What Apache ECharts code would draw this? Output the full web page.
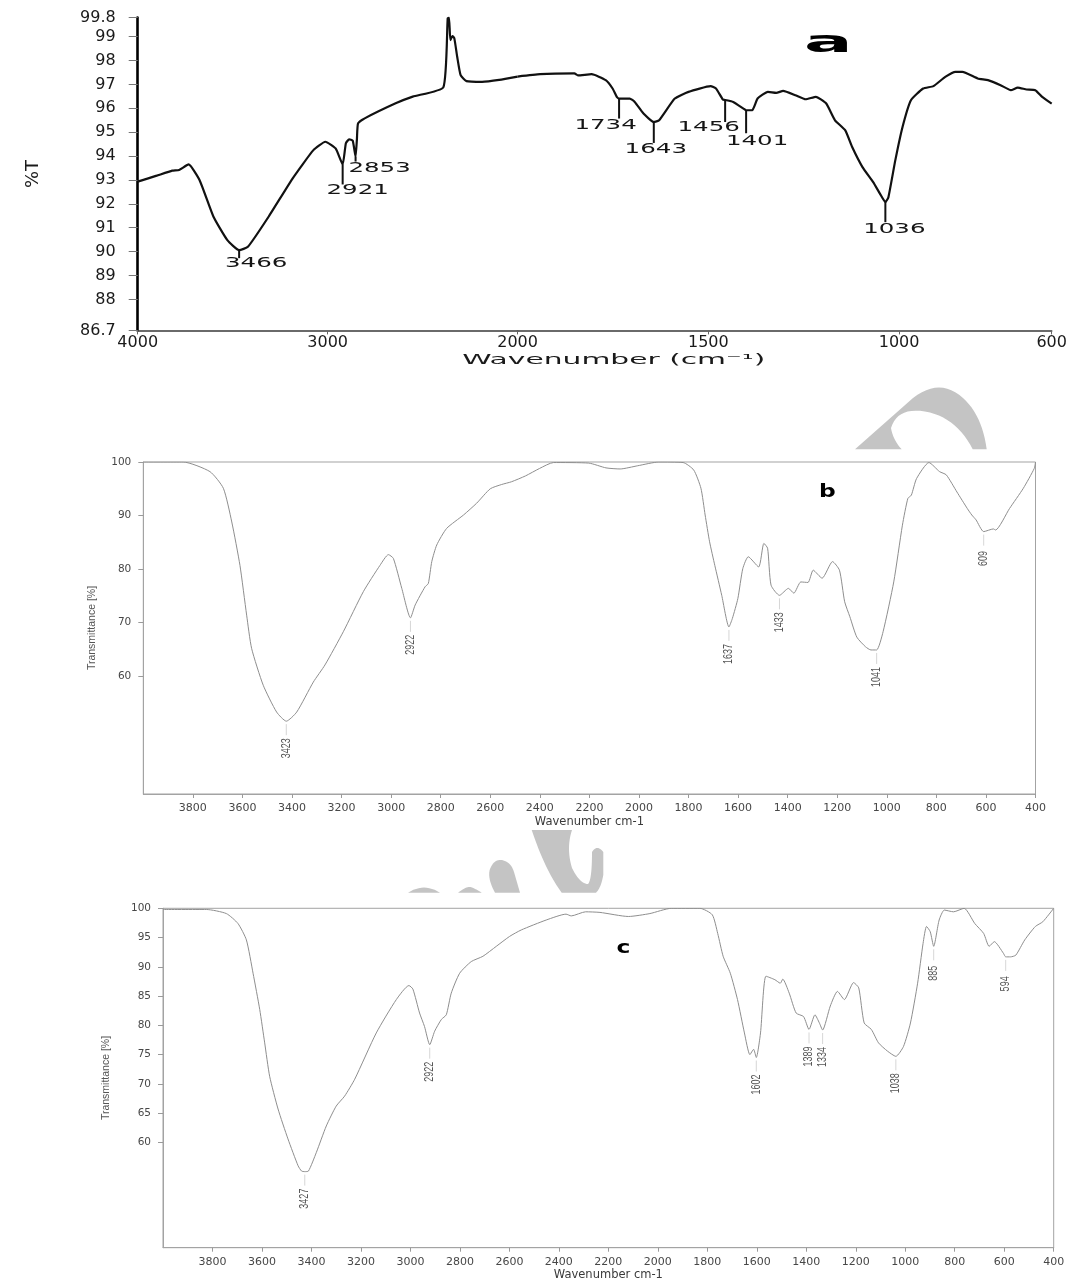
<!DOCTYPE html>
<html>
<head>
<meta charset="utf-8">
<title>FTIR spectra (a, b, c)</title>
<script src="https://cdn.jsdelivr.net/npm/echarts@6/dist/echarts.min.js"></script>
<style>
  html, body { margin: 0; padding: 0; background: #ffffff; }
  #chart { width: 1081px; height: 1282px; }
</style>
</head>
<body>
<div id="chart"></div>
<script>
// ---------------------------------------------------------------
// Spectrum a : [wavenumber (cm-1), %T]
// ---------------------------------------------------------------
const spectrumA = [
  [4000, 92.93], [3900, 93.18], [3818, 93.39], [3782, 93.42], [3732, 93.65],
  [3674, 92.99], [3601, 91.46], [3528, 90.48], [3466, 90.06], [3420, 90.20],
  [3311, 91.46], [3184, 93.07], [3075, 94.25], [3012, 94.60], [2958, 94.32],
  [2921, 93.65], [2904, 94.54], [2887, 94.70], [2868, 94.65], [2853, 93.98],
  [2846, 94.70], [2840, 95.37], [2805, 95.58], [2642, 96.21], [2552, 96.49],
  [2391, 96.88], [2368, 99.77], [2361, 99.80], [2354, 98.86], [2343, 99.03],
  [2333, 98.93], [2318, 98.16], [2300, 97.39], [2269, 97.14], [2187, 97.11],
  [2097, 97.19], [2000, 97.33], [1941, 97.43], [1851, 97.46], [1842, 97.38],
  [1806, 97.43], [1769, 97.18], [1751, 96.83], [1740, 96.48], [1734, 96.41],
  [1706, 96.41], [1693, 96.27], [1670, 95.78], [1643, 95.43], [1629, 95.50],
  [1588, 96.41], [1552, 96.69], [1494, 96.93], [1480, 96.83], [1462, 96.37],
  [1456, 96.35], [1435, 96.27], [1408, 95.99], [1401, 95.92], [1385, 95.92],
  [1371, 96.41], [1344, 96.69], [1322, 96.65], [1304, 96.73], [1272, 96.55],
  [1245, 96.38], [1218, 96.48], [1191, 96.20], [1168, 95.50], [1141, 95.08],
  [1123, 94.38], [1096, 93.54], [1068, 92.91], [1050, 92.42], [1036, 92.07],
  [1028, 92.28], [1010, 93.82], [991, 95.22], [969, 96.34], [937, 96.83],
  [910, 96.93], [879, 97.32], [852, 97.53], [834, 97.53], [794, 97.25],
  [767, 97.18], [734, 96.97], [707, 96.76], [689, 96.87], [666, 96.79],
  [643, 96.76], [625, 96.48], [600, 96.20]
];
const peaksA   = [3466, 2921, 2853, 1734, 1643, 1456, 1401, 1036];
const peaksA_T = [90.06, 93.65, 93.98, 96.41, 95.43, 96.35, 95.92, 92.07];
const yTicksA  = [86.7, 88, 89, 90, 91, 92, 93, 94, 95, 96, 97, 98, 99, 99.8];
const xTicksAHigh = [4000, 3000, 2000];
const xTicksALow  = [1500, 1000, 600];

// ---------------------------------------------------------------
// Spectrum b : [wavenumber (cm-1), Transmittance %]
// ---------------------------------------------------------------
const spectrumB = [
  [4000, 100], [3839, 100], [3731, 98.2], [3677, 95.1], [3643, 88.8],
  [3610, 80.7], [3583, 71.4], [3563, 65.2], [3516, 58.3], [3462, 53.3],
  [3423, 51.6], [3381, 53.3], [3314, 58.9], [3267, 62.1], [3193, 68.3],
  [3112, 75.8], [3045, 80.7], [3011, 82.7], [2991, 82.0], [2957, 76.4],
  [2922, 70.9], [2903, 73.3], [2863, 76.7], [2850, 77.3], [2836, 81.4],
  [2816, 84.5], [2776, 87.6], [2708, 90.1], [2655, 92.3], [2600, 95.0],
  [2554, 95.8], [2515, 96.3], [2458, 97.4], [2401, 98.8], [2345, 99.9],
  [2203, 99.8], [2133, 98.9], [2076, 98.7], [2005, 99.3], [1920, 100],
  [1822, 99.9], [1779, 98.5], [1750, 95.1], [1733, 90.1], [1715, 85.1],
  [1694, 80.7], [1666, 75.1], [1637, 69.2], [1623, 70.8], [1601, 74.5],
  [1581, 80.1], [1559, 82.3], [1517, 80.4], [1496, 84.8], [1481, 83.9],
  [1467, 77.0], [1433, 75.1], [1397, 76.4], [1375, 75.5], [1347, 77.6],
  [1318, 77.5], [1297, 79.8], [1261, 78.3], [1219, 81.4], [1191, 79.8],
  [1170, 73.9], [1149, 71.1], [1121, 67.3], [1086, 65.5], [1064, 64.9],
  [1041, 64.9], [1015, 68.3], [972, 77.6], [937, 88.2], [915, 93.2],
  [901, 93.8], [880, 96.9], [830, 99.9], [787, 98.2], [760, 97.6],
  [717, 94.4], [675, 91.3], [657, 90.1], [640, 89.2], [609, 87.0],
  [570, 87.5], [561, 87.3], [505, 91.3], [449, 95.1], [405, 98.8],
  [400, 100]
];
const peaksB   = [3423, 2922, 1637, 1433, 1041, 609];
const peaksB_T = [51.6, 70.9, 69.2, 75.1, 64.9, 87.0];
const yTicksB  = [60, 70, 80, 90, 100];

// ---------------------------------------------------------------
// Spectrum c : [wavenumber (cm-1), Transmittance %]
// ---------------------------------------------------------------
const spectrumC = [
  [4000, 99.8], [3825, 99.8], [3744, 99.1], [3697, 97.4], [3663, 94.6],
  [3636, 88.9], [3609, 82.7], [3589, 77.0], [3569, 71.3], [3535, 65.7],
  [3495, 60.6], [3454, 56.0], [3440, 55.1], [3427, 55.0], [3412, 55.1],
  [3380, 58.3], [3340, 62.8], [3300, 66.2], [3266, 67.9], [3225, 70.8],
  [3138, 78.7], [3057, 84.4], [3006, 86.8], [2990, 86.2], [2963, 82.1],
  [2943, 79.8], [2922, 76.7], [2902, 79.0], [2875, 81.0], [2855, 81.8],
  [2835, 85.5], [2801, 88.9], [2754, 90.9], [2707, 91.8], [2653, 93.5],
  [2599, 95.2], [2552, 96.3], [2451, 98.0], [2371, 99.0], [2350, 98.7],
  [2292, 99.4], [2234, 99.3], [2119, 98.6], [2032, 99.1], [1946, 100],
  [1830, 100], [1780, 98.9], [1758, 95.7], [1736, 91.8], [1707, 88.9],
  [1678, 84.4], [1650, 78.7], [1628, 75.0], [1613, 75.9], [1602, 74.5],
  [1585, 78.7], [1563, 88.4], [1527, 87.8], [1505, 87.2], [1495, 87.9],
  [1469, 85.5], [1441, 82.1], [1411, 81.5], [1389, 79.3], [1365, 81.8],
  [1347, 80.4], [1334, 79.2], [1303, 83.3], [1274, 85.8], [1246, 84.4],
  [1209, 87.3], [1188, 86.4], [1166, 80.4], [1137, 79.3], [1108, 77.0],
  [1072, 75.6], [1038, 74.7], [1007, 76.4], [979, 80.4], [950, 87.2],
  [928, 94.0], [914, 96.9], [899, 96.0], [885, 93.5], [863, 98.0],
  [842, 99.7], [805, 99.4], [762, 100], [719, 97.4], [683, 95.7],
  [661, 93.5], [640, 94.3], [603, 92.3], [594, 91.7], [575, 91.7],
  [553, 92.0], [517, 94.6], [474, 96.9], [444, 97.7], [400, 100]
];
const peaksC   = [3427, 2922, 1602, 1389, 1334, 1038, 885, 594];
const peaksC_T = [55.0, 76.7, 74.5, 79.3, 79.2, 74.7, 93.5, 91.7];
const yTicksC  = [60, 65, 70, 75, 80, 85, 90, 95, 100];

// Tick labels shared by the lower two spectra
const xTicksBC = [3800, 3600, 3400, 3200, 3000, 2800, 2600, 2400, 2200,
                  2000, 1800, 1600, 1400, 1200, 1000, 800, 600, 400];

// ---------------------------------------------------------------
// Placement of the peak call-outs of spectrum a (pixels from the peak)
// len: leader length, dx/dy: centre of the number
// ---------------------------------------------------------------
const peakLabelLayoutA = {
  3466: { len: 8,  dx: 17,    dy: 13 },
  2921: { len: 20, dx: 15,    dy: 26 },
  2853: { len: 5,  dx: 24,    dy: 12 },
  1734: { len: 20, dx: -13.5, dy: 26.5 },
  1643: { len: 21, dx: 2,     dy: 27 },
  1456: { len: 22, dx: -16.5, dy: 27 },
  1401: { len: 23, dx: 11,    dy: 31.5 },
  1036: { len: 20, dx: 9,     dy: 27 }
};

// Outlines of the grey logo fragments between the panels (M / L / Q commands)
const logoOutlines = [
  'M855 449.3 L913 398 Q940 377 963 398 Q982 415 986.7 449.3 L972.7 449.3 Q958 420 930 412.5 Q898 405 891 428 Q893 440 901.7 449.3 Z',
  'M531.7 830 L572 830 Q566 848 572 868 Q580 884 588 884 Q592 880 592 852 Q597 844 603.3 852 L603.3 875 Q601 888 596 892.7 L561.7 892.7 Q545 870 531.7 830 Z',
  'M495 892.7 Q487 878 490 869 Q494 859 502 860 Q511 862 514 872 L520 892.7 Z',
  'M408 892.7 Q424 882.5 440 892.7 Z',
  'M458 892.7 Q468 885 472 887.5 Q476 889 481.7 892.7 Z'
];

const FONT_A = 'DejaVu Sans';
const FONT_BC = 'DejaVu Sans';
const FONT_NARROW = "'Liberation Sans Narrow', 'Liberation Sans', sans-serif";

// Plain numbers on the axes (no thousands separator)
const plainNumber = v => String(v);

// Flatten an outline made of M / L / Q commands into polygon points
function outlineToPoints(d) {
  const tok = d.replace(/([MLQZ])/g, ' $1 ').trim().split(/[\s,]+/);
  const pts = [];
  let i = 0, cur = [0, 0];
  while (i < tok.length) {
    const c = tok[i++];
    if (c === 'M' || c === 'L') {
      cur = [+tok[i++], +tok[i++]];
      pts.push(cur);
    } else if (c === 'Q') {
      const cp = [+tok[i++], +tok[i++]];
      const end = [+tok[i++], +tok[i++]];
      for (let k = 1; k <= 12; k++) {
        const t = k / 12, u = 1 - t;
        pts.push([u * u * cur[0] + 2 * u * t * cp[0] + t * t * end[0],
                  u * u * cur[1] + 2 * u * t * cp[1] + t * t * end[1]]);
      }
      cur = end;
    }
  }
  return pts;
}

const specAHigh = spectrumA.filter(d => d[0] >= 2000);
const specALow  = spectrumA.filter(d => d[0] <= 2000);
const peakDataA = peaksA.map((w, i) => [w, peaksA_T[i]]);
const peakDataB = peaksB.map((w, i) => [w, peaksB_T[i]]);
const peakDataC = peaksC.map((w, i) => [w, peaksC_T[i]]);

// Vertical leader + horizontally stretched number (spectrum a)
function renderPeakA(params, api) {
  const w = api.value(0);
  const p = api.coord([w, api.value(1)]);
  const lay = peakLabelLayoutA[w];
  return {
    type: 'group',
    children: [
      { type: 'line',
        shape: { x1: p[0], y1: p[1], x2: p[0], y2: p[1] + lay.len },
        style: { stroke: '#111111', lineWidth: 2 } },
      { type: 'text', x: p[0] + lay.dx, y: p[1] + lay.dy, scaleX: 1.75,
        style: { text: String(w), x: 0, y: 0,
                 align: 'center', verticalAlign: 'middle',
                 fontFamily: FONT_A, fontSize: 14, fill: '#151515' } }
    ]
  };
}

// Faint leader + condensed number written bottom-to-top (spectra b, c)
function renderPeakRotated(params, api) {
  const w = api.value(0);
  const p = api.coord([w, api.value(1)]);
  return {
    type: 'group',
    children: [
      { type: 'line',
        shape: { x1: p[0], y1: p[1] + 3, x2: p[0], y2: p[1] + 14 },
        style: { stroke: '#cccccc', lineWidth: 0.8 } },
      { type: 'text', x: p[0], y: p[1] + 27, rotation: Math.PI / 2, scaleX: 0.72,
        style: { text: String(w), x: 0, y: 0,
                 align: 'center', verticalAlign: 'middle',
                 fontFamily: 'Liberation Sans', fontSize: 12.5, fill: '#555555' } }
    ]
  };
}

const chart = echarts.init(document.getElementById('chart'), null, { renderer: 'canvas' });

const axisA = { color: '#1a1a1a', fontFamily: FONT_A, fontSize: 16, formatter: plainNumber };
const axisBC = { color: '#474747', fontFamily: FONT_BC, fontSize: 11, formatter: plainNumber };

function centredText(txt, x, y, scaleX, font) {
  return { type: 'text', x: x, y: y, scaleX: scaleX, silent: true,
           style: Object.assign({ text: txt, x: 0, y: 0,
                                  textAlign: 'center', textVerticalAlign: 'middle',
                                  fill: '#000' }, font) };
}

const option = {
  animation: false,
  backgroundColor: '#ffffff',
  textStyle: { fontFamily: FONT_A },
  grid: [
    { left: 137.7, top: 17.6, width: 379.9, height: 312.8, outerBoundsMode: 'none' },
    { left: 517.6, top: 17.6, width: 534.1, height: 312.8, outerBoundsMode: 'none' },
    { left: 143.3, top: 462, width: 892.2, height: 332, outerBoundsMode: 'none',
      show: true, borderColor: '#a3a3a3', borderWidth: 1 },
    { left: 163, top: 908.3, width: 890.7, height: 339.4, outerBoundsMode: 'none',
      show: true, borderColor: '#a3a3a3', borderWidth: 1 }
  ],
  xAxis: [
    { gridIndex: 0, type: 'value', min: 2000, max: 4000, inverse: true,
      splitLine: { show: false },
      axisLine: { lineStyle: { color: '#3a3a3a', width: 1.6 } },
      axisTick: { customValues: xTicksAHigh, length: 4, lineStyle: { color: '#666' } },
      axisLabel: Object.assign({ customValues: xTicksAHigh, margin: 4 }, axisA) },
    { gridIndex: 1, type: 'value', min: 600, max: 2000, inverse: true,
      splitLine: { show: false },
      axisLine: { lineStyle: { color: '#3a3a3a', width: 1.6 } },
      axisTick: { customValues: xTicksALow, length: 4, lineStyle: { color: '#666' } },
      axisLabel: Object.assign({ customValues: xTicksALow, margin: 4 }, axisA) },
    { gridIndex: 2, type: 'value', min: 400, max: 4000, inverse: true,
      splitLine: { show: false },
      name: 'Wavenumber cm-1', nameLocation: 'middle', nameGap: 22,
      nameTextStyle: { color: '#3a3a3a', fontFamily: FONT_BC, fontSize: 11.5 },
      axisLine: { lineStyle: { color: '#a3a3a3', width: 1 } },
      axisTick: { customValues: xTicksBC, length: 4, lineStyle: { color: '#9a9a9a' } },
      axisLabel: Object.assign({ customValues: xTicksBC, margin: 9 }, axisBC) },
    { gridIndex: 3, type: 'value', min: 400, max: 4000, inverse: true,
      splitLine: { show: false },
      name: 'Wavenumber cm-1', nameLocation: 'middle', nameGap: 21,
      nameTextStyle: { color: '#3a3a3a', fontFamily: FONT_BC, fontSize: 11.5 },
      axisLine: { lineStyle: { color: '#a3a3a3', width: 1 } },
      axisTick: { customValues: xTicksBC, length: 4, lineStyle: { color: '#9a9a9a' } },
      axisLabel: Object.assign({ customValues: xTicksBC, margin: 9 }, axisBC) }
  ],
  yAxis: [
    { gridIndex: 0, type: 'value', min: 86.7, max: 99.8,
      splitLine: { show: false },
      name: '%T', nameLocation: 'middle', nameGap: 95,
      nameTextStyle: { color: '#1a1a1a', fontFamily: FONT_A, fontSize: 18 },
      axisLine: { show: true, lineStyle: { color: '#000000', width: 2.6 } },
      axisTick: { show: true, customValues: yTicksA, length: 9, lineStyle: { color: '#777' } },
      axisLabel: Object.assign({ customValues: yTicksA, margin: 22 }, axisA) },
    { gridIndex: 1, type: 'value', min: 86.7, max: 99.8, show: false },
    { gridIndex: 2, type: 'value', min: 38, max: 100,
      splitLine: { show: false },
      name: 'Transmittance [%]', nameLocation: 'middle', nameGap: 46,
      nameTextStyle: { color: '#555555', fontFamily: FONT_NARROW, fontSize: 10.5 },
      axisLine: { show: true, lineStyle: { color: '#a3a3a3', width: 1 } },
      axisTick: { show: true, customValues: yTicksB, length: 5, lineStyle: { color: '#9a9a9a' } },
      axisLabel: Object.assign({ customValues: yTicksB, margin: 12 }, axisBC, { fontSize: 10.5 }) },
    { gridIndex: 3, type: 'value', min: 42, max: 100,
      splitLine: { show: false },
      name: 'Transmittance [%]', nameLocation: 'middle', nameGap: 51,
      nameTextStyle: { color: '#555555', fontFamily: FONT_NARROW, fontSize: 10.5 },
      axisLine: { show: true, lineStyle: { color: '#a3a3a3', width: 1 } },
      axisTick: { show: true, customValues: yTicksC, length: 5, lineStyle: { color: '#9a9a9a' } },
      axisLabel: Object.assign({ customValues: yTicksC, margin: 12 }, axisBC, { fontSize: 10.5 }) }
  ],
  series: [
    { name: 'a (4000-2000)', type: 'line', xAxisIndex: 0, yAxisIndex: 0,
      data: specAHigh, showSymbol: false, symbol: 'none', smooth: 0.15, clip: true,
      lineStyle: { color: '#111111', width: 2.2 }, z: 3 },
    { name: 'a (2000-600)', type: 'line', xAxisIndex: 1, yAxisIndex: 1,
      data: specALow, showSymbol: false, symbol: 'none', smooth: 0.15, clip: true,
      lineStyle: { color: '#111111', width: 2.2 }, z: 3 },
    { name: 'a peaks high', type: 'custom', xAxisIndex: 0, yAxisIndex: 0,
      data: peakDataA.filter(d => d[0] >= 2000), encode: { x: 0, y: 1 },
      renderItem: renderPeakA, z: 4, silent: true },
    { name: 'a peaks low', type: 'custom', xAxisIndex: 1, yAxisIndex: 1,
      data: peakDataA.filter(d => d[0] < 2000), encode: { x: 0, y: 1 },
      renderItem: renderPeakA, z: 4, silent: true },

    { name: 'b', type: 'line', xAxisIndex: 2, yAxisIndex: 2,
      data: spectrumB, showSymbol: false, symbol: 'none', smooth: 0.2, clip: true,
      lineStyle: { color: '#8e8e8e', width: 1 }, z: 3 },
    { name: 'b peaks', type: 'custom', xAxisIndex: 2, yAxisIndex: 2,
      data: peakDataB, encode: { x: 0, y: 1 },
      renderItem: renderPeakRotated, z: 4, silent: true },

    { name: 'c', type: 'line', xAxisIndex: 3, yAxisIndex: 3,
      data: spectrumC, showSymbol: false, symbol: 'none', smooth: 0.2, clip: true,
      lineStyle: { color: '#8e8e8e', width: 1 }, z: 3 },
    { name: 'c peaks', type: 'custom', xAxisIndex: 3, yAxisIndex: 3,
      data: peakDataC, encode: { x: 0, y: 1 },
      renderItem: renderPeakRotated, z: 4, silent: true }
  ],
  graphic: [
    // panel letters
    centredText('a', 828.4, 44.6, 2.4, { fontFamily: FONT_A, fontWeight: 'bold', fontSize: 30 }),
    centredText('b', 827.5, 492.3, 1.3, { fontFamily: FONT_A, fontWeight: 'bold', fontSize: 18 }),
    centredText('c', 623.5, 948.8, 1.3, { fontFamily: FONT_A, fontWeight: 'bold', fontSize: 18 }),
    // x-axis title of spectrum a (spans both axis segments)
    centredText('Wavenumber (cm\u207B\u00B9)', 613.7, 360, 2.05,
                { fontFamily: FONT_A, fontSize: 14.5, fill: '#1a1a1a' })
  ].concat(logoOutlines.map(d => ({
    type: 'polygon', silent: true, z: -1,
    shape: { points: outlineToPoints(d) },
    style: { fill: '#c4c4c4' }
  })))
};

chart.setOption(option);
</script>
</body>
</html>
